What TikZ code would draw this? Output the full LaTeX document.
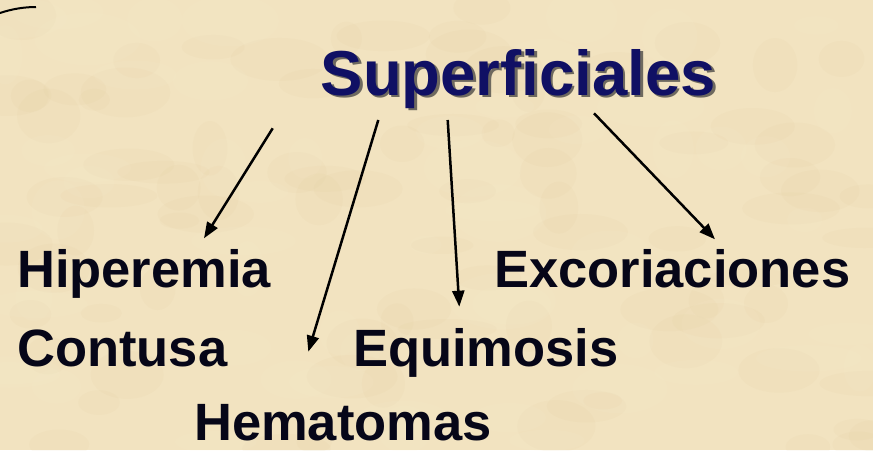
\documentclass[tikz,border=0pt]{standalone}
\usepackage{fontspec}
\setmainfont{Liberation Sans}
\usetikzlibrary{arrows.meta}
\definecolor{parch}{RGB}{242,227,192}
\definecolor{parchdark}{RGB}{222,200,150}
\definecolor{parchlight}{RGB}{250,240,212}
\definecolor{titleblue}{RGB}{16,16,100}
\definecolor{shadowgray}{RGB}{110,105,95}
\definecolor{inkdark}{RGB}{6,6,24}
\tikzset{
  lbl/.style={anchor=base west, inner sep=0pt, text=inkdark,
    font=\fontsize{52.5}{60}\selectfont\bfseries},
  ttl/.style={anchor=base west, inner sep=0pt, text=titleblue,
    font=\fontsize{63.5}{70}\selectfont\bfseries},
  ttlshadow/.style={ttl, text=shadowgray},
  arr/.style={-{Triangle[length=16pt,width=12pt]}, line width=2.5pt, draw=black},
  blotch/.style={fill=#1, opacity=0.09}
}
\begin{document}
\begin{tikzpicture}[x=1pt,y=-1pt]
\fill[parch] (0,0) rectangle (873,450);
\useasboundingbox (0,0) rectangle (873,450);
% parchment mottling
\pgfmathsetseed{42}
\begin{scope}
\clip (0,0) rectangle (873,450);
\foreach \i in {1,...,90}{
  \pgfmathsetmacro{\px}{rnd*873}
  \pgfmathsetmacro{\py}{rnd*450}
  \pgfmathsetmacro{\rx}{15+rnd*35}
  \pgfmathsetmacro{\ry}{8+rnd*20}
  \fill[blotch=parchdark] (\px,\py) ellipse [x radius=\rx, y radius=\ry];
}
\foreach \i in {1,...,60}{
  \pgfmathsetmacro{\px}{rnd*873}
  \pgfmathsetmacro{\py}{rnd*450}
  \pgfmathsetmacro{\rx}{15+rnd*40}
  \pgfmathsetmacro{\ry}{8+rnd*22}
  \fill[blotch=parchlight] (\px,\py) ellipse [x radius=\rx, y radius=\ry];
}
\end{scope}
% corner stroke
\coordinate (c1) at (0,13);
\coordinate (c2) at (36,7);
\draw[line width=2pt] (c1) .. controls (12,9) and (24,7) .. (c2);
% title
\node[ttlshadow] (tshadow) at (323,97.5) {Superficiales};
\node[ttl] (title) at (320.5,95) {Superficiales};
% labels
\node[lbl] (hip) at (17,287) {Hiperemia};
\node[lbl] (con) at (17,366) {Contusa};
\node[lbl] (hem) at (194,440) {Hematomas};
\node[lbl] (equ) at (353,366) {Equimosis};
\node[lbl] (exc) at (494,287) {Excoriaciones};
% arrow ends
\coordinate (s1) at (272.7,128.3); \coordinate (e1) at (204,238.3);
\coordinate (s2) at (378.3,120);   \coordinate (e2) at (308.3,351.7);
\coordinate (s3) at (447.7,120);   \coordinate (e3) at (459.3,306.7);
\coordinate (s4) at (594,113.3);   \coordinate (e4) at (715,239.3);
\draw[arr] (s1) -- (e1);
\draw[arr] (s2) -- (e2);
\draw[arr] (s3) -- (e3);
\draw[arr] (s4) -- (e4);
\end{tikzpicture}
\end{document}
